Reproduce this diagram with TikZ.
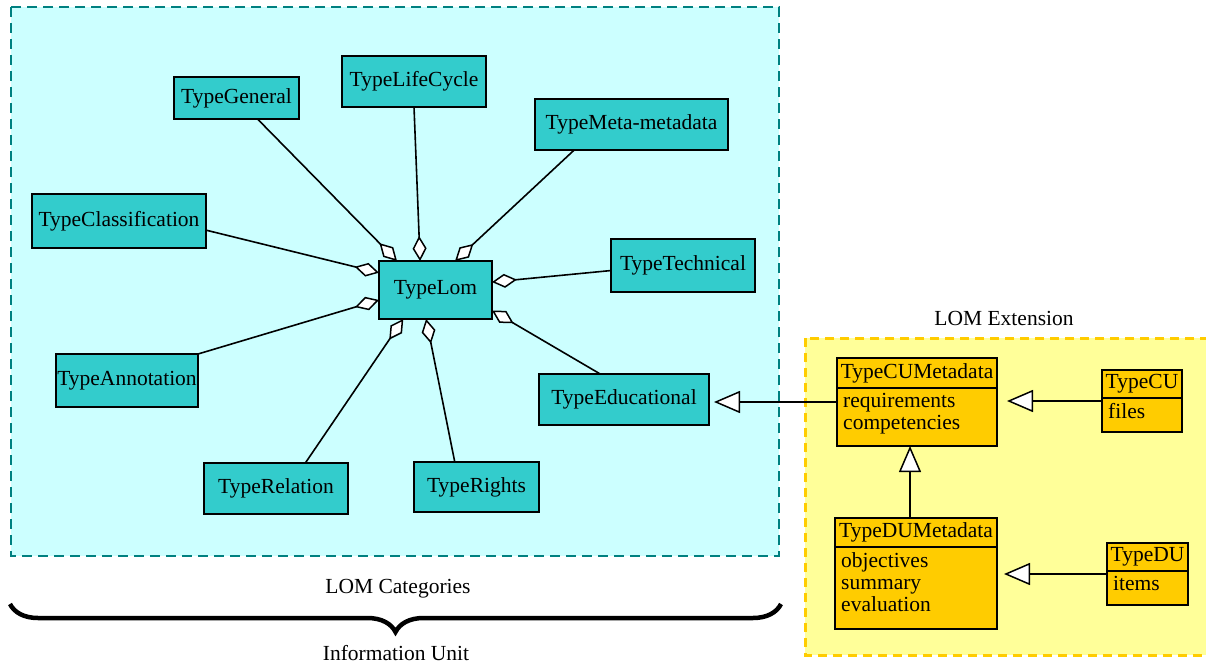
\documentclass[tikz,border=0pt]{standalone}
\usepackage{fontspec}
\setmainfont{Liberation Serif}
\usetikzlibrary{arrows.meta,decorations.pathreplacing,calc}
\definecolor{regcyan}{HTML}{CCFFFF}
\definecolor{regteal}{HTML}{008080}
\definecolor{nodecyan}{HTML}{33CCCC}
\definecolor{regyellow}{HTML}{FFFF99}
\definecolor{umlgold}{HTML}{FFCC00}
\begin{document}
\begin{tikzpicture}[x=1pt,y=-1pt,
  every node/.style={font=\fontsize{21.5}{22}\selectfont},
  cat/.style={draw=black, line width=1.5pt, fill=nodecyan, inner sep=0pt, outer sep=0pt},
  clsbox/.style={draw=black, line width=1.5pt, fill=umlgold, inner sep=0pt, outer sep=0pt, anchor=north west},
  clshead/.style={draw=black, line width=1.5pt, inner sep=0pt, outer sep=0pt, anchor=north},
  clsattr/.style={inner xsep=6pt, inner ysep=5pt, anchor=north west, align=left},
  agg/.style={line width=1.6pt, {Diamond[fill=white, length=25pt, width=14pt, line width=1.5pt]}-},
  genz/.style={line width=1.6pt, -{Triangle[fill=white, length=26pt, width=22pt, line width=1.5pt]}},
  lbl/.style={inner sep=0pt}
]
\useasboundingbox (0,0) rectangle (1206,663);
% regions
\draw[fill=regcyan, draw=regteal, line width=2.5pt, dash pattern=on 10pt off 6pt] (11,7) rectangle (779,556);
\begin{scope}
\clip (0,0) rectangle (1206,663);
\draw[fill=regyellow, draw=umlgold, line width=3pt, dash pattern=on 9pt off 6pt] (805,338) rectangle (1215,655);
\end{scope}
% category nodes
\node[cat, minimum width=113pt, minimum height=58pt] (lom) at (435.5,290) {TypeLom};
\node[cat, minimum width=125pt, minimum height=42pt] (gen) at (236.5,98) {TypeGeneral};
\node[cat, minimum width=144pt, minimum height=51pt] (lc) at (414,81.5) {TypeLifeCycle};
\node[cat, minimum width=193pt, minimum height=51pt] (meta) at (631.5,124.5) {TypeMeta-metadata};
\node[cat, minimum width=144pt, minimum height=53pt] (tech) at (683,265.5) {TypeTechnical};
\node[cat, minimum width=174pt, minimum height=54pt] (cls) at (119,221) {TypeClassification};
\node[cat, minimum width=142pt, minimum height=53pt] (ann) at (127,380.5) {TypeAnnotation};
\node[cat, minimum width=144pt, minimum height=51pt] (rel) at (276,488.5) {TypeRelation};
\node[cat, minimum width=125pt, minimum height=50pt] (rig) at (476.5,487) {TypeRights};
\node[cat, minimum width=170pt, minimum height=51pt] (edu) at (624,399.5) {TypeEducational};
% aggregation connectors
\draw[agg] (lom.143) -- (gen.-45);
\draw[agg] (lom.118) -- (lc.south);
\draw[agg] (lom.56) -- (meta.204);
\draw[agg] (lom.8) -- (tech.184);
\draw[agg] (lom.163) -- (cls.354);
\draw[agg] (lom.190) -- (ann.north east);
\draw[agg] (lom.222) -- (rel.41);
\draw[agg] (lom.252) -- (rig.131);
\draw[agg] (lom.340) -- (edu.133);
% UML classes
\node[clsbox, minimum width=160pt, minimum height=88pt] (cum) at (837,358) {};
\node[clshead, minimum width=160pt, minimum height=30pt] (cumh) at (cum.north) {TypeCUMetadata};
\node[clsattr] (cuma) at (cumh.south west) {requirements\\competencies};
\node[clsbox, minimum width=80pt, minimum height=62pt] (cu) at (1102,370) {};
\node[clshead, minimum width=80pt, minimum height=28pt] (cuh) at (cu.north) {TypeCU};
\node[clsattr] (cua) at (cuh.south west) {files};
\node[clsbox, minimum width=162pt, minimum height=111pt] (dum) at (835,518) {};
\node[clshead, minimum width=162pt, minimum height=29pt] (dumh) at (dum.north) {TypeDUMetadata};
\node[clsattr] (duma) at (dumh.south west) {objectives\\summary\\evaluation};
\node[clsbox, minimum width=81pt, minimum height=62pt] (du) at (1107,543) {};
\node[clshead, minimum width=81pt, minimum height=28pt] (duh) at (du.north) {TypeDU};
\node[clsattr] (dua) at (duh.south west) {items};
% generalization connectors
\draw[genz, shorten >=5pt] (cum.west) -- (cum.west -| edu.east);
\draw[genz, shorten >=10pt] (cu.west) -- (cu.west -| cum.east);
\draw[genz, shorten >=7pt] (du.west) -- (du.west -| dum.east);
\draw[genz] ([xshift=-6pt]dum.north) -- ([xshift=-6pt]dum.north |- cum.south);
% labels and brace
\node[lbl] (ext) at (1004,318) {LOM Extension};
\node[lbl] (cat) at (398,589) {LOM Categories};
\node[lbl] (iu) at (396,653) {Information Unit};
\coordinate (bl) at (10,604);
\coordinate (br) at (781,604);
\draw[line width=4.5pt, decorate, decoration={brace, amplitude=28pt, mirror}] (bl) -- (br);
\end{tikzpicture}
\end{document}
